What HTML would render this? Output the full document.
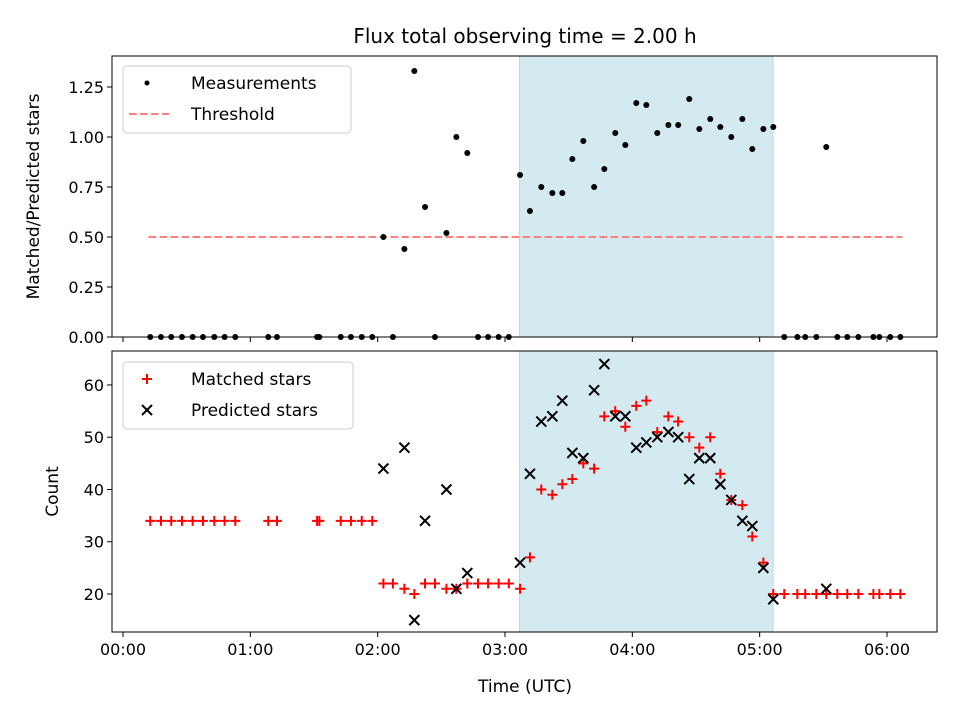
<!DOCTYPE html>
<html><head><meta charset="utf-8"><style>
body{margin:0;background:#fff}
svg{font-family:"DejaVu Sans","Liberation Sans",sans-serif}
</style></head><body>
<svg id="fig" width="960" height="720" xmlns="http://www.w3.org/2000/svg">
<rect width="960" height="720" fill="#fff"/>
<text x="525" y="43" font-size="20" text-anchor="middle">Flux total observing time = 2.00 h</text>
<g id="top"></g>
<g id="bot"></g>
</svg>
<script>
const times = [0.214,0.298,0.379,0.463,0.547,0.628,0.717,0.798,0.882,1.141,1.209,1.524,1.542,1.71,1.79,1.875,1.958,2.045,2.12,2.21,2.288,2.372,2.45,2.54,2.618,2.704,2.788,2.867,2.95,3.03,3.118,3.196,3.285,3.372,3.45,3.529,3.615,3.70,3.78,3.866,3.945,4.031,4.11,4.196,4.283,4.36,4.447,4.526,4.612,4.691,4.777,4.864,4.942,5.029,5.107,5.193,5.296,5.358,5.445,5.523,5.61,5.688,5.775,5.893,5.94,6.026,6.105];
const ratio = [0,0,0,0,0,0,0,0,0,0,0,0,0,0,0,0,0,0.5,0,0.44,1.33,0.65,0,0.52,1.0,0.92,0,0,0,0,0.81,0.63,0.75,0.72,0.72,0.89,0.98,0.75,0.84,1.02,0.96,1.17,1.16,1.02,1.06,1.06,1.19,1.04,1.09,1.05,1.00,1.09,0.94,1.04,1.05,0,0,0,0,0.95,0,0,0,0,0,0,0];
const matched = [34,34,34,34,34,34,34,34,34,34,34,34,34,34,34,34,34,22,22,21,20,22,22,21,21,22,22,22,22,22,21,27,40,39,41,42,45,44,54,55,52,56,57,51,54,53,50,48,50,43,38,37,31,26,20,20,20,20,20,20,20,20,20,20,20,20,20];
const predicted = [null,null,null,null,null,null,null,null,null,null,null,null,null,null,null,null,null,44,null,48,15,34,null,40,21,24,null,null,null,null,26,43,53,54,57,47,46,59,64,54,54,48,49,50,51,50,42,46,46,41,38,34,33,25,19,null,null,null,null,21,null,null,null,null,null,null,null];
const threshold = 0.5;
const thresholdRange = [0.2, 6.12];
const spanHours = [3.114, 5.105];
const xTickLabels = ["00:00","01:00","02:00","03:00","04:00","05:00","06:00"];
const topTicks = [0,0.25,0.5,0.75,1.0,1.25];
const botTicks = [20,30,40,50,60];

const NS="http://www.w3.org/2000/svg";
const X0=112,X1=937;
const xs=h=>123+h*127.333;
function el(p,t,a){const e=document.createElementNS(NS,t);for(const k in a)e.setAttribute(k,a[k]);p.appendChild(e);return e;}

function panel(g,top,bot,ymin,ymax,ticks,fmt,ylabel,showX){
  const ys=v=>bot-(v-ymin)/(ymax-ymin)*(bot-top);
  const sp=el(g,'rect',{x:xs(spanHours[0]),y:top,width:xs(spanHours[1])-xs(spanHours[0]),height:bot-top,fill:'#d4eaf1',stroke:'#b9dbe6','stroke-width':1});
  
  
  xTickLabels.forEach((l,i)=>{
    const x=xs(i);
    const t=el(g,'line',{x1:x,x2:x,y1:bot,y2:bot+5,stroke:'#000','stroke-width':1});
    
    
    if(showX){const tx=el(g,'text',{x:x,y:bot+23,'font-size':16,'text-anchor':'middle'});tx.textContent=l;
      
      }
  });
  ticks.forEach(v=>{
    const y=ys(v);
    const t=el(g,'line',{x1:X0-5,x2:X0,y1:y,y2:y,stroke:'#000','stroke-width':1});
    
    
    const tx=el(g,'text',{x:X0-8,y:y+6,'font-size':16,'text-anchor':'end'});tx.textContent=fmt(v);
    
    
  });
  const yl=el(g,'text',{transform:`translate(${ylabel[1]},${(top+bot)/2}) rotate(-90)`,'font-size':17,'text-anchor':'middle'});
  yl.textContent=ylabel[0];
  
  
  return ys;
}

const gt=document.getElementById('top'), gb=document.getElementById('bot');
const yT=panel(gt,56,337,0,1.405,topTicks,v=>v.toFixed(2),['Matched/Predicted stars',39],false);
const thr=el(gt,'line',{x1:xs(thresholdRange[0]),x2:xs(thresholdRange[1]),y1:yT(threshold),y2:yT(threshold),stroke:'#ff8080','stroke-width':2,'stroke-dasharray':'7.7,3.3'});


times.forEach((t,i)=>{
  const c=el(gt,'circle',{cx:xs(t),cy:yT(ratio[i]),r:3,fill:'#000'});
  
  
});
el(gt,'rect',{x:X0,y:56,width:X1-X0,height:281,fill:'none',stroke:'#000','stroke-width':1});

const yB=panel(gb,351,632,12.73,66.5,botTicks,v=>String(v),['Count',58],true);
function plus(g,x,y){const p=el(g,'path',{d:`M${x-5},${y}H${x+5}M${x},${y-5}V${y+5}`,stroke:'#f00','stroke-width':2});return p;}
function cross(g,x,y){const p=el(g,'path',{d:`M${x-5},${y-5}L${x+5},${y+5}M${x-5},${y+5}L${x+5},${y-5}`,stroke:'#000','stroke-width':2});return p;}
times.forEach((t,i)=>{
  const p=plus(gb,xs(t),yB(matched[i]));
  
  
});
times.forEach((t,i)=>{
  if(predicted[i]===null)return;
  const p=cross(gb,xs(t),yB(predicted[i]));
  
  
});
el(gb,'rect',{x:X0,y:351,width:X1-X0,height:281,fill:'none',stroke:'#000','stroke-width':1});
const xt=el(gb,'text',{x:525,y:692,'font-size':17,'text-anchor':'middle'});xt.textContent='Time (UTC)';



// legends
function legend(g,y,w,items){
  const lg=el(g,'g',{});
  
  
  el(lg,'rect',{x:123,y:y,width:w,height:67,rx:4,fill:'#fff','fill-opacity':0.8,stroke:'#ccc','stroke-width':1});
  items.forEach((it,i)=>{
    const cy=y+17+i*31;
    it[0](lg,147,cy);
    const tx=el(lg,'text',{x:191,y:cy+6,'font-size':17});tx.textContent=it[1];
    
    
  });
}
legend(gt,66,228,[[(g,x,y)=>el(g,'circle',{cx:x,cy:y,r:2.5,fill:'#000'}),'Measurements'],[(g,x,y)=>el(g,'line',{x1:x-18,x2:x+22,y1:y,y2:y,stroke:'#ff8080','stroke-width':2,'stroke-dasharray':'7.7,3.3'}),'Threshold']]);
legend(gb,362,230,[[(g,x,y)=>plus(g,x,y),'Matched stars'],[(g,x,y)=>cross(g,x,y),'Predicted stars']]);
</script>
</body></html>
